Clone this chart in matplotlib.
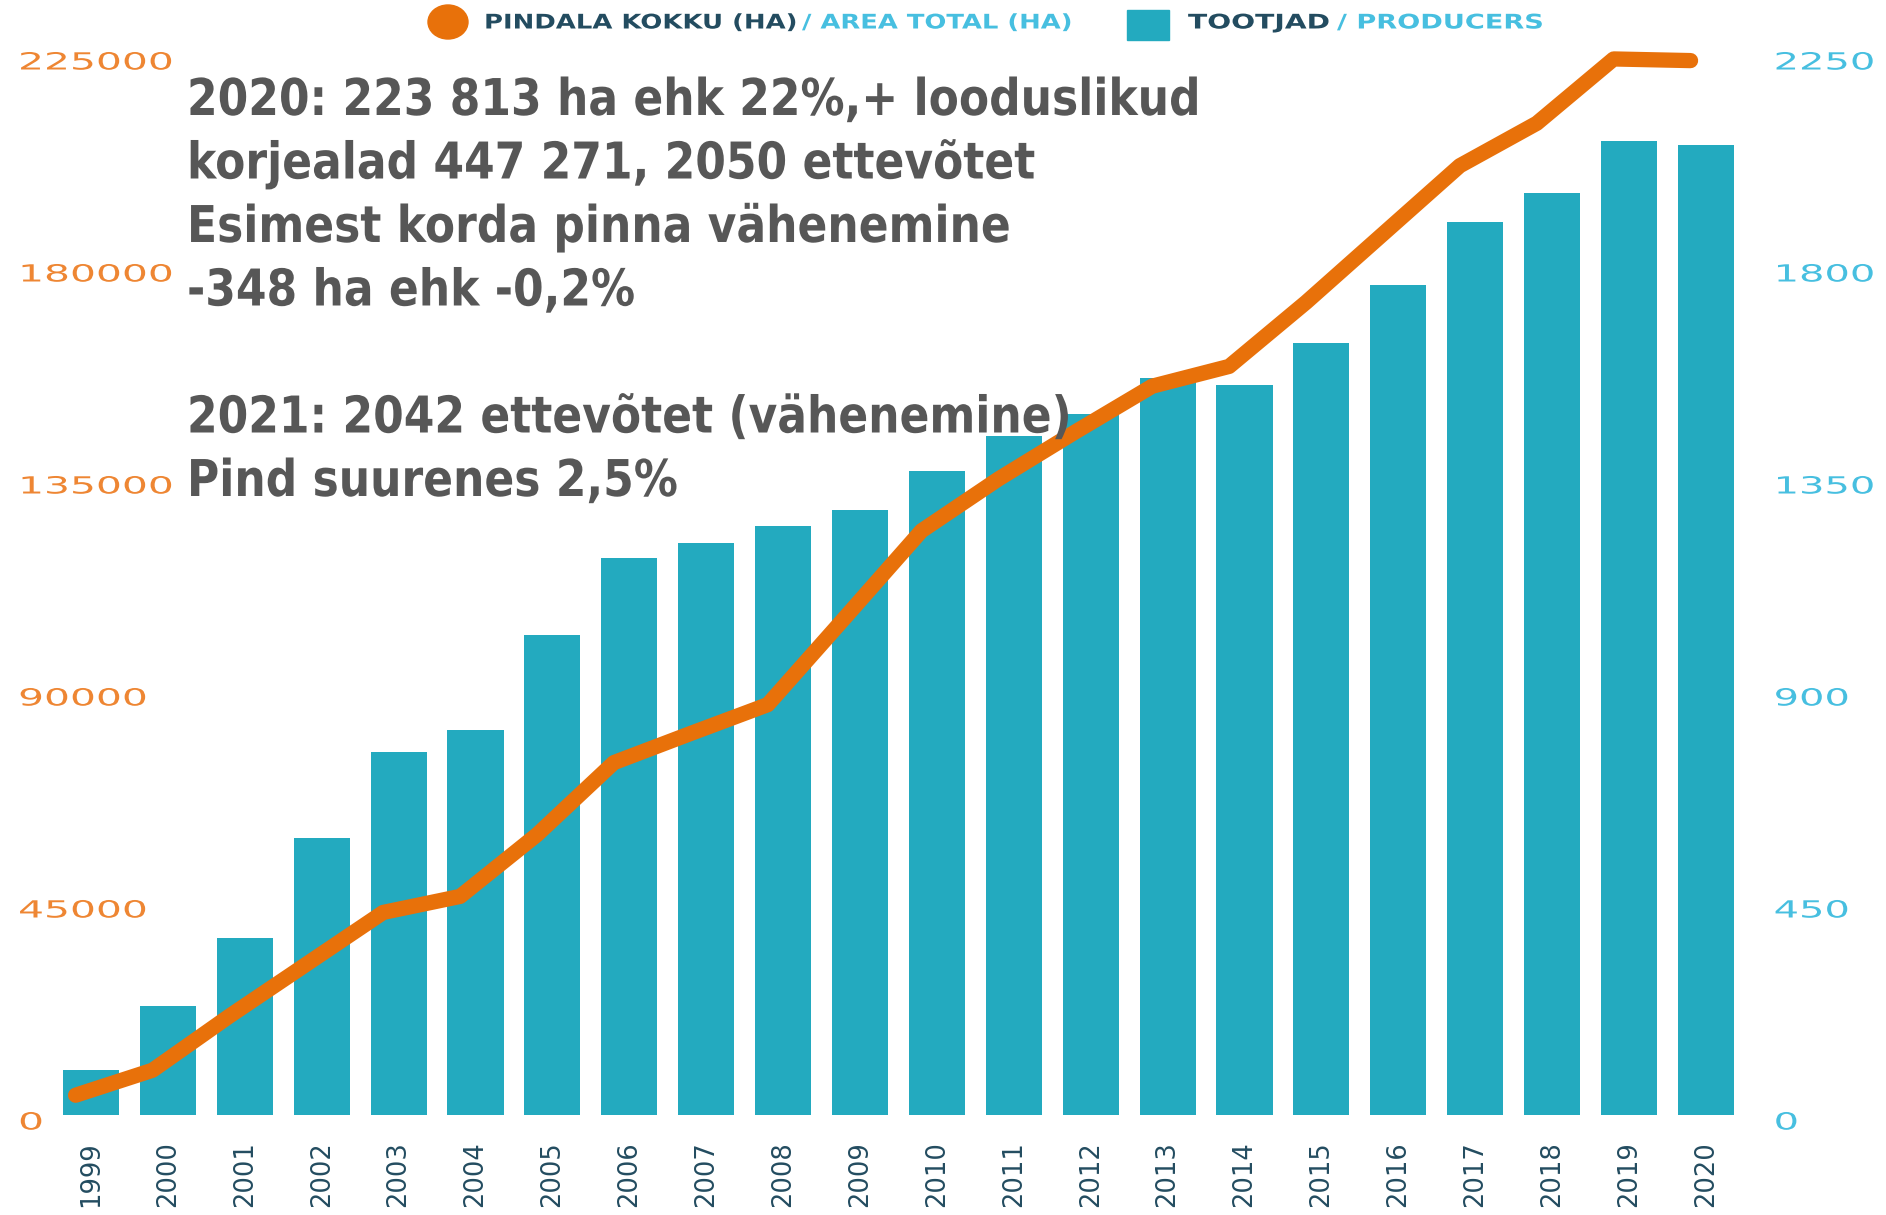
import matplotlib
matplotlib.use("Agg")
import matplotlib.pyplot as plt
from matplotlib.patches import Ellipse, Rectangle
from matplotlib.patheffects import AbstractPathEffect
from matplotlib.transforms import Affine2D, ScaledTranslation

# data
years = [str(y) for y in range(1999, 2021)]
producers = [96, 232, 376, 588, 771, 817, 1019, 1182, 1215, 1251, 1285,
             1367, 1441, 1488, 1564, 1550, 1639, 1761, 1896, 1958, 2067, 2059]
area_ha = [4200, 9500, 21000, 32000, 43000, 46400, 59500, 74800, 81000, 87100,
           105500, 124000, 135000, 145000, 154700, 158900, 172500, 187000,
           201500, 210500, 224161, 223813]
left_ticks = [0, 45000, 90000, 135000, 180000, 225000]
right_ticks = [0, 450, 900, 1350, 1800, 2250]
note_lines = [
    "2020: 223 813 ha ehk 22%,+ looduslikud",
    "korjealad 447 271, 2050 ettevõtet",
    "Esimest korda pinna vähenemine",
    "-348 ha ehk -0,2%",
    "",
    "2021: 2042 ettevõtet (vähenemine)",
    "Pind suurenes 2,5%",
]

BAR_C = "#23aabf"
LINE_C = "#e8710a"
LEFT_C = "#ee8633"
RIGHT_C = "#47bfe0"
DARK_C = "#234c60"
NOTE_C = "#575757"

W, H, DPI = 1886, 1215, 100


class Stretch(AbstractPathEffect):
    """scale glyphs horizontally (the source uses a very wide font)"""
    def __init__(self, sx):
        super().__init__()
        self.sx = sx

    def draw_path(self, renderer, gc, tpath, affine, rgbFace=None):
        renderer.draw_path(gc, tpath, Affine2D().scale(self.sx, 1.0) + affine, rgbFace)


fig = plt.figure(figsize=(W / DPI, H / DPI), dpi=DPI)
renderer = fig.canvas.get_renderer()


def px(x, y):
    return x / W, 1 - y / H


def measure(s, **kw):
    t = fig.text(0, 0, s, **kw)
    w = t.get_window_extent(renderer).width
    t.remove()
    return w


# axes: zero at y=1115 px, top (225000 / 2250) at y=55 px
ax = fig.add_axes([50 / W, (H - 1115) / H, 1700 / W, 1060 / H])
x = list(range(len(years)))
ax.bar(x, producers, width=0.73, color=BAR_C, zorder=2)
ax.set_xlim(-0.533, 21.573)
ax.set_ylim(0, 2250)

ax2 = ax.twinx()
ax2.plot([i - 0.2 for i in x], area_ha, color=LINE_C, lw=11,
         solid_capstyle="round", solid_joinstyle="round", clip_on=False, zorder=3)
ax2.set_ylim(0, 225000)

for a in (ax, ax2):
    for sp in a.spines.values():
        sp.set_visible(False)
    a.patch.set_visible(False)

tick_fs = 17
sx_left = 156 / measure("225000", fontsize=tick_fs)
sx_right = 102 / measure("2250", fontsize=tick_fs)

ax.yaxis.tick_right()
ax.tick_params(axis="y", length=0, pad=17)
ax.set_yticks(right_ticks, labels=[str(v) for v in right_ticks], fontsize=tick_fs,
              color=RIGHT_C, path_effects=[Stretch(sx_right)])

ax2.yaxis.tick_left()
ax2.tick_params(axis="y", length=0, pad=23)
ax2.set_yticks(left_ticks, labels=[str(v) for v in left_ticks], fontsize=tick_fs,
               color=LEFT_C, ha="left", path_effects=[Stretch(sx_left)])

# value labels sit a few pixels below their gridline level in the source
nudge = ScaledTranslation(0, -5 / DPI, fig.dpi_scale_trans)
for lab in ax.get_yticklabels(which="both") + ax2.get_yticklabels(which="both"):
    lab.set_transform(lab.get_transform() + nudge)

ax.tick_params(axis="x", length=0, pad=19)
ax.set_xticks(x, labels=years, rotation=90, fontsize=18.5, color=DARK_C)

# legend at the top
fig.add_artist(Ellipse(px(448, 22), 40 / W, 34 / H, transform=fig.transFigure,
                       color=LINE_C))
fig.add_artist(Rectangle(px(1127, 40), 42 / W, 30 / H, transform=fig.transFigure,
                         color=BAR_C))
legend_parts = [
    (484, 314, "PINDALA KOKKU (HA)", DARK_C),
    (802, 271, "/ AREA TOTAL (HA)", RIGHT_C),
    (1188, 142, "TOOTJAD", DARK_C),
    (1337, 207, "/ PRODUCERS", RIGHT_C),
]
for lx, lw_, s, c in legend_parts:
    kw = dict(fontsize=14.5, fontweight="bold")
    sx = lw_ / measure(s, **kw)
    fig.text(*px(lx, 23), s, color=c, va="center", ha="left",
             path_effects=[Stretch(sx)], **kw)

# note text
note_kw = dict(fontsize=36.5, fontweight="bold", color=NOTE_C,
               family="DejaVu Sans", ha="left", va="baseline")
sx_note = 1013 / measure(note_lines[0], **note_kw)
for i, line in enumerate(note_lines):
    if line:
        fig.text(*px(187, 115 + 63.5 * i), line, path_effects=[Stretch(sx_note)],
                 zorder=5, **note_kw)

fig.savefig("out.png", dpi=DPI)
